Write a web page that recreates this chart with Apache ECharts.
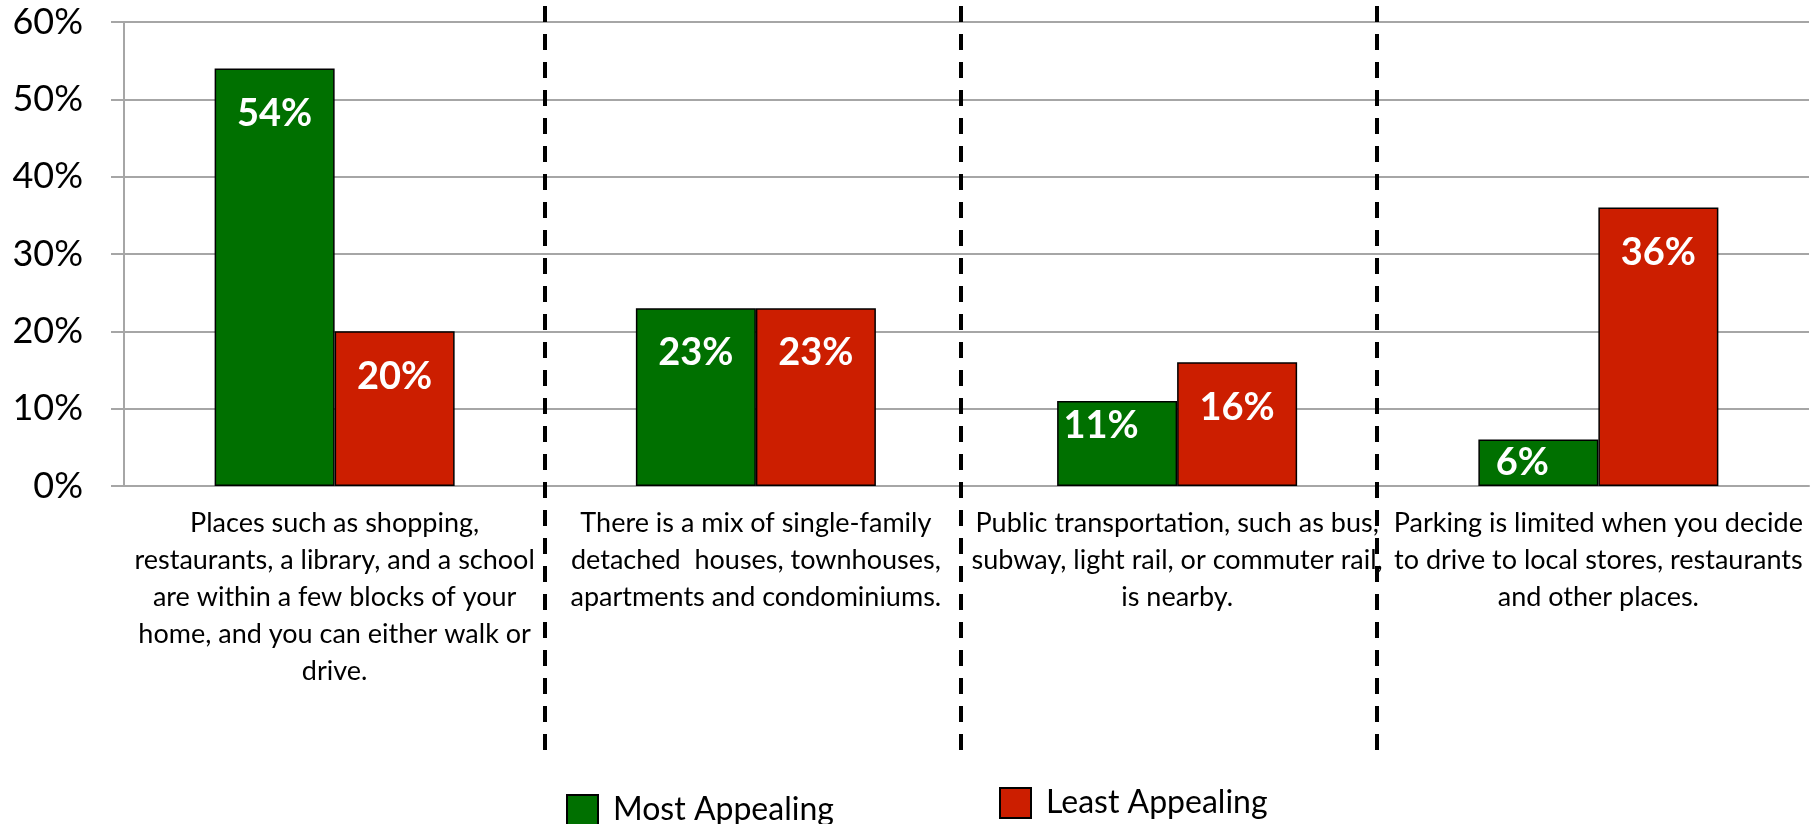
<!DOCTYPE html>
<html>
<head>
<meta charset="utf-8">
<script src="https://cdn.jsdelivr.net/npm/echarts@6/dist/echarts.min.js"></script>
<style>
  html, body { margin: 0; padding: 0; background: #fff; }
  #chart { width: 1819px; height: 824px; }
</style>
</head>
<body>
<div id="chart"></div>
<script>
// categories (line breaks as in the original)
const categories = [
  "Places such as shopping,\nrestaurants, a library, and a school\nare within a few blocks of your\nhome, and you can either walk or\ndrive.",
  "There is a mix of single-family\ndetached  houses, townhouses,\napartments and condominiums.",
  "Public transportation, such as bus,\nsubway, light rail, or commuter rail,\nis nearby.",
  "Parking is limited when you decide\nto drive to local stores, restaurants\nand other places."
];
const seriesNames = ["Most Appealing", "Least Appealing"];
const mostAppealing = [54, 23, 11, 6];
const leastAppealing = [20, 23, 16, 36];
const yTicks = [0, 10, 20, 30, 40, 50, 60];
// dashed separators, in category units along the x axis
const dividerAt = [1.0, 1.987, 2.974];

const green = "#007000";
const red = "#CC1E00";
const font = "Lato";

// bar labels: short bars get their label placed differently (as in Excel)
function labelFor(v) {
  if (v < 8) {
    return { position: "inside", offset: [-16, 0] };
  }
  if (v < 13) {
    return { position: "insideTop", distance: 6, offset: [-16, 0] };
  }
  return {};
}

function makeData(values) {
  return values.map((v) => ({ value: v, label: labelFor(v) }));
}

const barLabel = {
  show: true,
  position: "insideTop",
  distance: 26,
  color: "#fff",
  fontFamily: font,
  fontWeight: "bold",
  fontSize: 38,
  formatter: "{c}%",
};

const legendText = { fontFamily: font, fontSize: 32, color: "#000", padding: [0, 0, 0, 10] };

const chart = echarts.init(document.getElementById("chart"));

const option = {
  animation: false,
  grid: { left: 124, right: 10, top: 22, bottom: 338 },
  legend: [
    {
      data: [{ name: seriesNames[0], icon: "rect" }],
      left: 561,
      top: 789,
      itemWidth: 31,
      itemHeight: 30,
      textStyle: legendText,
    },
    {
      data: [{ name: seriesNames[1], icon: "rect" }],
      left: 994,
      top: 782,
      itemWidth: 31,
      itemHeight: 30,
      textStyle: legendText,
    },
  ],
  xAxis: [
    {
      type: "category",
      data: categories,
      axisLine: { lineStyle: { color: "#A6A6A6", width: 2 } },
      axisTick: { length: 9, lineStyle: { color: "#A6A6A6", width: 2 } },
      axisLabel: {
        interval: 0,
        margin: 19,
        fontFamily: font,
        fontSize: 27,
        lineHeight: 37,
        color: "#000",
        align: "center",
      },
    },
    { type: "value", min: 0, max: 4, show: false },
  ],
  yAxis: {
    type: "value",
    min: yTicks[0],
    max: yTicks[yTicks.length - 1],
    interval: 10,
    axisLine: { show: true, lineStyle: { color: "#A6A6A6", width: 2 } },
    axisTick: { show: true, length: 13, lineStyle: { color: "#A6A6A6", width: 2 } },
    splitLine: { lineStyle: { color: "#A6A6A6", width: 2 } },
    axisLabel: {
      margin: 41,
      fontFamily: font,
      fontSize: 36,
      color: "#000",
      formatter: "{value}%",
    },
  },
  series: [
    {
      name: seriesNames[0],
      type: "bar",
      barWidth: 120,
      barGap: "0%",
      data: makeData(mostAppealing),
      itemStyle: { color: green, borderColor: "#000", borderWidth: 1.5 },
      label: barLabel,
    },
    {
      name: seriesNames[1],
      type: "bar",
      barWidth: 120,
      barGap: "0%",
      data: makeData(leastAppealing),
      itemStyle: { color: red, borderColor: "#000", borderWidth: 1.5 },
      label: barLabel,
    },
  ],
};

chart.setOption(option);

// dashed separators spanning beyond the plot area
const lines = dividerAt.map((d) => {
  const x = Math.round(chart.convertToPixel({ xAxisIndex: 1 }, d));
  return {
    type: "line",
    shape: { x1: x, y1: 6, x2: x, y2: 750 },
    style: { stroke: "#000", lineWidth: 4, lineDash: [16, 12] },
    z: 10,
  };
});
chart.setOption({ graphic: lines });
</script>
</body>
</html>
